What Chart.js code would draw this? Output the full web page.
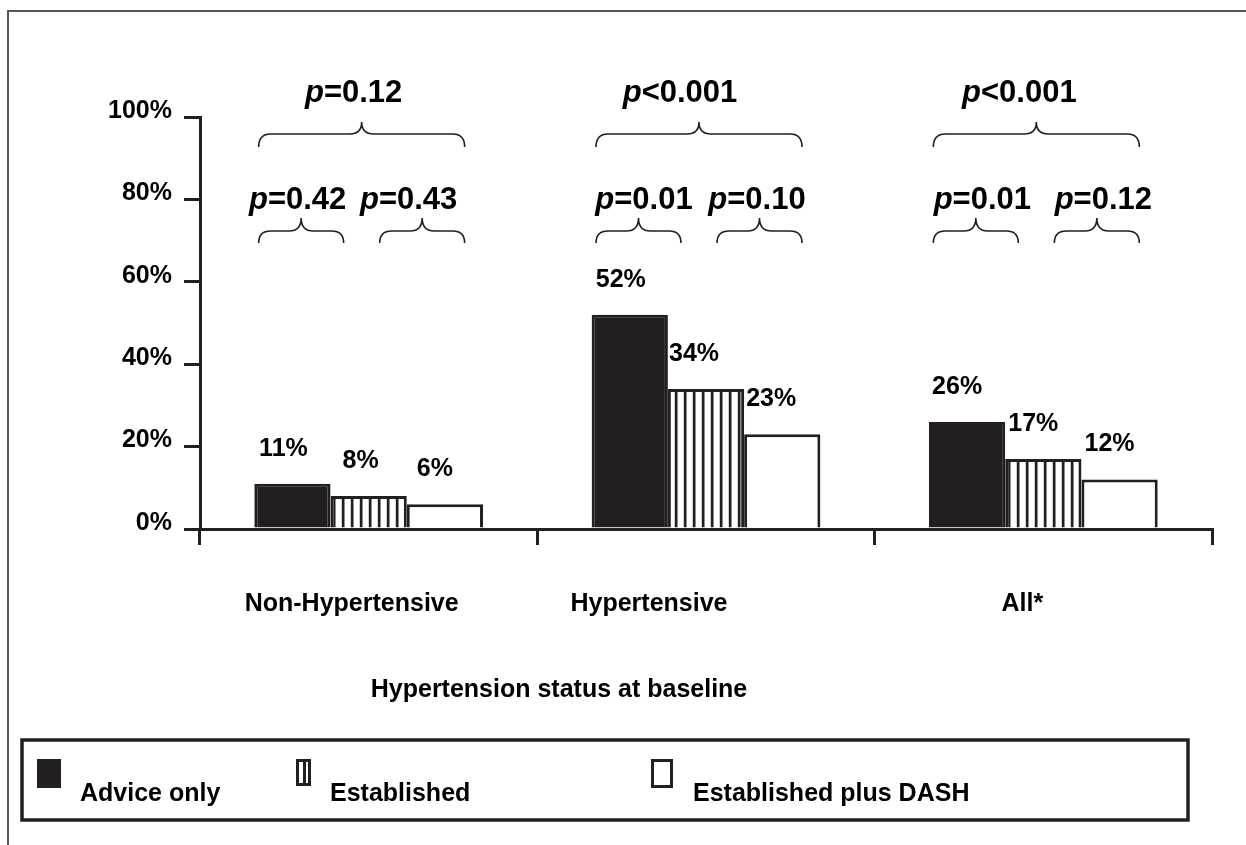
<!DOCTYPE html>
<html>
<head>
<meta charset="utf-8">
<script src="https://cdn.jsdelivr.net/npm/chart.js@4.4.1/dist/chart.umd.min.js"></script>
<style>
  html, body { margin: 0; padding: 0; background: #fff; }
  #wrap { width: 1246px; height: 845px; position: relative; }
</style>
</head>
<body>
<div id="wrap"><canvas id="c" width="1246" height="845"></canvas></div>
<script>
// ---- data ----
const categories = ['Non-Hypertensive', 'Hypertensive', 'All*'];
const adviceOnly = [11, 52, 26];
const established = [8, 34, 17];
const establishedDash = [6, 23, 12];
const seriesNames = ['Advice only', 'Established', 'Established plus DASH'];
const yTickValues = [0, 20, 40, 60, 80, 100];
const xAxisTitle = 'Hypertension status at baseline';
// p-values: all three groups together, then the two neighbouring pairs
const pOverall = ['=0.12', '<0.001', '<0.001'];
const pFirstPair = ['=0.42', '=0.01', '=0.01'];
const pSecondPair = ['=0.43', '=0.10', '=0.12'];

// ---- styling ----
const INK = '#231f20';
const FONT = "'Liberation Sans', Arial, Helvetica, sans-serif";

// small horizontal nudges for the value labels, per series and group
const valueNudge = [[-9, -9, -10], [-8, -12, -10], [-10, -11, -10]];
// category label nudges relative to the category centre
const catNudge = [-17, -57, -21];
// p-value text centres relative to the category centre
const pTopNudge = [-15, -26, -24];
const pPairNudge = [[-71, 40], [-62, 51], [-61, 60]];

const canvas = document.getElementById('c');
const ctx = canvas.getContext('2d');

// vertical-stripe fill for the middle series
function makeHatch() {
  const c = document.createElement('canvas');
  c.width = 9; c.height = 4;
  const g = c.getContext('2d');
  g.fillStyle = '#fff'; g.fillRect(0, 0, 9, 4);
  g.fillStyle = INK; g.fillRect(0, 0, 2, 4);
  g.fillStyle = '#8c8c8c'; g.fillRect(2, 0, 1, 4);
  g.fillStyle = '#cfcfcf'; g.fillRect(8, 0, 1, 4);
  return ctx.createPattern(c, 'repeat');
}
const hatch = makeHatch();

function drawBrace(g, x0, x1, yEnd, yFlat, yTip) {
  const xm = (x0 + x1) / 2;
  const r = 12;
  g.beginPath();
  g.moveTo(x0, yEnd);
  g.quadraticCurveTo(x0, yFlat, x0 + r, yFlat);
  g.lineTo(xm - r, yFlat);
  g.quadraticCurveTo(xm, yFlat, xm, yTip);
  g.quadraticCurveTo(xm, yFlat, xm + r, yFlat);
  g.lineTo(x1 - r, yFlat);
  g.quadraticCurveTo(x1, yFlat, x1, yEnd);
  g.stroke();
}

function drawP(g, rest, cx, baseline, size) {
  const italic = 'italic bold ' + size + 'px ' + FONT;
  const bold = 'bold ' + size + 'px ' + FONT;
  g.font = italic; const wp = g.measureText('p').width;
  g.font = bold; const wr = g.measureText(rest).width;
  const x = cx - (wp + wr) / 2;
  g.textAlign = 'left'; g.textBaseline = 'alphabetic';
  g.font = italic; g.fillText('p', x, baseline);
  g.font = bold; g.fillText(rest, x + wp, baseline);
}

const frame = {
  id: 'frame',
  beforeDraw(chart) {
    const g = chart.ctx;
    g.save();
    g.fillStyle = '#fff';
    g.fillRect(0, 0, chart.width, chart.height);
    g.strokeStyle = '#555';
    g.lineWidth = 2;
    g.beginPath();
    g.moveTo(8, chart.height + 2);
    g.lineTo(8, 11);
    g.lineTo(chart.width + 2, 11);
    g.stroke();
    g.restore();
  }
};

const annotations = {
  id: 'annotations',
  afterDraw(chart) {
    const g = chart.ctx;
    const xs = chart.scales.x;
    const area = chart.chartArea;
    g.save();
    g.fillStyle = '#000';

    // value labels above bars
    g.font = 'bold 25px ' + FONT;
    g.textAlign = 'center';
    g.textBaseline = 'middle';
    chart.data.datasets.forEach((ds, di) => {
      chart.getDatasetMeta(di).data.forEach((bar, i) => {
        g.fillText(ds.data[i] + '%', bar.x + valueNudge[di][i], bar.y - 35);
      });
    });

    // category labels and axis title
    g.font = 'bold 25px ' + FONT;
    categories.forEach((name, i) => {
      g.fillText(name, xs.getPixelForValue(i) + catNudge[i], 604);
    });
    g.fillText(xAxisTitle, (area.left + area.right) / 2 - 147, 690);

    // braces and p-values
    g.strokeStyle = INK;
    g.lineWidth = 1.6;
    categories.forEach((_, i) => {
      const c = xs.getPixelForValue(i);
      drawBrace(g, c - 110, c + 96, 147, 134, 122);
      drawBrace(g, c - 110, c - 25, 243, 231, 218);
      drawBrace(g, c + 11, c + 96, 243, 231, 218);
      drawP(g, pOverall[i], c + pTopNudge[i], 102, 31);
      drawP(g, pFirstPair[i], c + pPairNudge[i][0], 209, 31);
      drawP(g, pSecondPair[i], c + pPairNudge[i][1], 209, 31);
    });

    // legend box
    g.lineWidth = 3.5;
    g.strokeRect(22, 740, 1166, 80);
    const ds = chart.data.datasets;
    // Advice only: solid marker
    g.fillStyle = INK;
    g.fillRect(37, 759, 24, 29);
    // Established: framed marker with a stripe
    g.fillRect(296, 759, 15, 27);
    g.fillStyle = '#fff';
    g.fillRect(299, 762, 4, 21);
    g.fillRect(306, 762, 2, 21);
    // Established plus DASH: open marker
    g.strokeStyle = INK;
    g.lineWidth = 3;
    g.strokeRect(652.5, 760.5, 19, 26);
    g.fillStyle = '#000';
    g.font = 'bold 25px ' + FONT;
    g.textAlign = 'left';
    g.textBaseline = 'alphabetic';
    g.fillText(ds[0].label, 80, 801);
    g.fillText(ds[1].label, 330, 801);
    g.fillText(ds[2].label, 693, 801);
    g.restore();
  }
};

new Chart(ctx, {
  type: 'bar',
  data: {
    labels: categories,
    datasets: [
      { label: seriesNames[0], data: adviceOnly, backgroundColor: INK, borderColor: INK, borderWidth: 3 },
      { label: seriesNames[1], data: established, backgroundColor: hatch, borderColor: INK, borderWidth: 3 },
      { label: seriesNames[2], data: establishedDash, backgroundColor: '#fff', borderColor: INK, borderWidth: 3 }
    ]
  },
  options: {
    responsive: false,
    animation: false,
    devicePixelRatio: 1,
    layout: { padding: { top: 117, right: 34, left: 0, bottom: 0 } },
    datasets: { bar: { categoryPercentage: 0.678, barPercentage: 1, borderSkipped: 'start' } },
    plugins: { legend: { display: false }, tooltip: { enabled: false } },
    scales: {
      x: {
        z: 1,
        grid: { offset: true, drawOnChartArea: false, drawTicks: true, tickLength: 16, color: INK, lineWidth: 3 },
        border: { display: true, color: INK, width: 3 },
        ticks: { display: false },
        afterFit: s => { s.height = 845 - 529; }
      },
      y: {
        z: 1,
        min: 0,
        max: 100,
        afterBuildTicks: s => { s.ticks = yTickValues.map(v => ({ value: v })); },
        ticks: {
          callback: v => v + '%',
          font: { family: FONT, size: 25, weight: 'bold' },
          color: '#000',
          padding: 12,
          labelOffset: -6
        },
        grid: { drawOnChartArea: false, tickLength: 16, color: INK, lineWidth: 3 },
        border: { display: true, color: INK, width: 3 },
        afterFit: s => { s.width = 200; }
      }
    }
  },
  plugins: [frame, annotations]
});
</script>
</body>
</html>
